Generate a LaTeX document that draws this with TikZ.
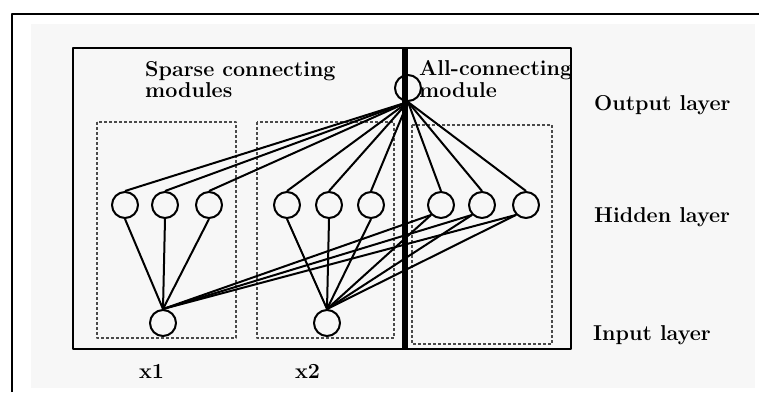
\documentclass[tikz,border=0pt]{standalone}
\usepackage{tikz}
\usetikzlibrary{positioning}
\definecolor{ScanGray}{HTML}{F7F7F7}
\definecolor{DashGray}{HTML}{4A4A4A}

\begin{document}
\begin{tikzpicture}[x=1pt,y=-1pt,line join=round]
  \tikzstyle{unit}=[draw,circle,line width=2pt,minimum size=26pt,inner sep=0pt]
  \tikzstyle{lbl}=[anchor=base west,inner sep=0pt,
    font=\fontsize{21.5}{25}\selectfont\bfseries]
  \tikzstyle{wire}=[line width=2pt]
  \tikzstyle{modbox}=[draw=DashGray,line width=1.2pt,dash pattern=on 3pt off 2pt]
  \useasboundingbox (0,0) rectangle (759,392);
  \fill[ScanGray] (31,24) rectangle (755,388);
  \draw[line width=2pt] (12,392) -- (12,13.5) -- (759,13.5);
  % modules
  \draw[modbox] (97,122) rectangle (236,338);
  \draw[modbox] (257,122) rectangle (394,338);
  \draw[modbox] (412,125) rectangle (552,344);
  \draw[line width=2.2pt] (73,48) rectangle (571,349);
  % units
  \node[unit] (out) at (408,88) {};
  \node[unit] (h1) at (125,205) {};
  \node[unit] (h2) at (165,205) {};
  \node[unit] (h3) at (209,205) {};
  \node[unit] (h4) at (287,205) {};
  \node[unit] (h5) at (329,205) {};
  \node[unit] (h6) at (371,205) {};
  \node[unit] (h7) at (441,205) {};
  \node[unit] (h8) at (482,205) {};
  \node[unit] (h9) at (526,205) {};
  \node[unit] (x1) at (163,323) {};
  \node[unit] (x2) at (327,323) {};
  % output to hidden
  \draw[wire] (out.south) -- (h1.north);
  \draw[wire] (out.south) -- (h2.north);
  \draw[wire] (out.south) -- (h3.north);
  \draw[wire] (out.south) -- (h4.north);
  \draw[wire] (out.south) -- (h5.north);
  \draw[wire] (out.south) -- (h6.north);
  \draw[wire] (out.south) -- (h7.north);
  \draw[wire] (out.south) -- (h8.north);
  \draw[wire] (out.south) -- (h9.north);
  % sparse part
  \draw[wire] (x1.north) -- (h1.south);
  \draw[wire] (x1.north) -- (h2.south);
  \draw[wire] (x1.north) -- (h3.south);
  \draw[wire] (x2.north) -- (h4.south);
  \draw[wire] (x2.north) -- (h5.south);
  \draw[wire] (x2.north) -- (h6.south);
  % all-connecting part
  \draw[wire] (x1.north) -- (h7.south west);
  \draw[wire] (x1.north) -- (h8.south west);
  \draw[wire] (x1.north) -- (h9.south west);
  \draw[wire] (x2.north) -- (h7.south west);
  \draw[wire] (x2.north) -- (h8.south west);
  \draw[wire] (x2.north) -- (h9.south west);
  \draw[line width=6pt] (405,48) -- (405,349);
  % labels
  \node[lbl] (sparse) at (145,76) {Sparse connecting};
  \node[lbl] (sparse2) at (145,97) {modules};
  \node[lbl] (allcon) at (419,75) {All-connecting};
  \node[lbl] (allcon2) at (419,97) {module};
  \node[lbl] (outlbl) at (594,110) {Output layer};
  \node[lbl] (hidlbl) at (594,222) {Hidden layer};
  \node[lbl] (inlbl) at (593,340) {Input layer};
  \node[lbl] (x1lbl) at (139,378) {x1};
  \node[lbl] (x2lbl) at (295,378) {x2};
\end{tikzpicture}
\end{document}
